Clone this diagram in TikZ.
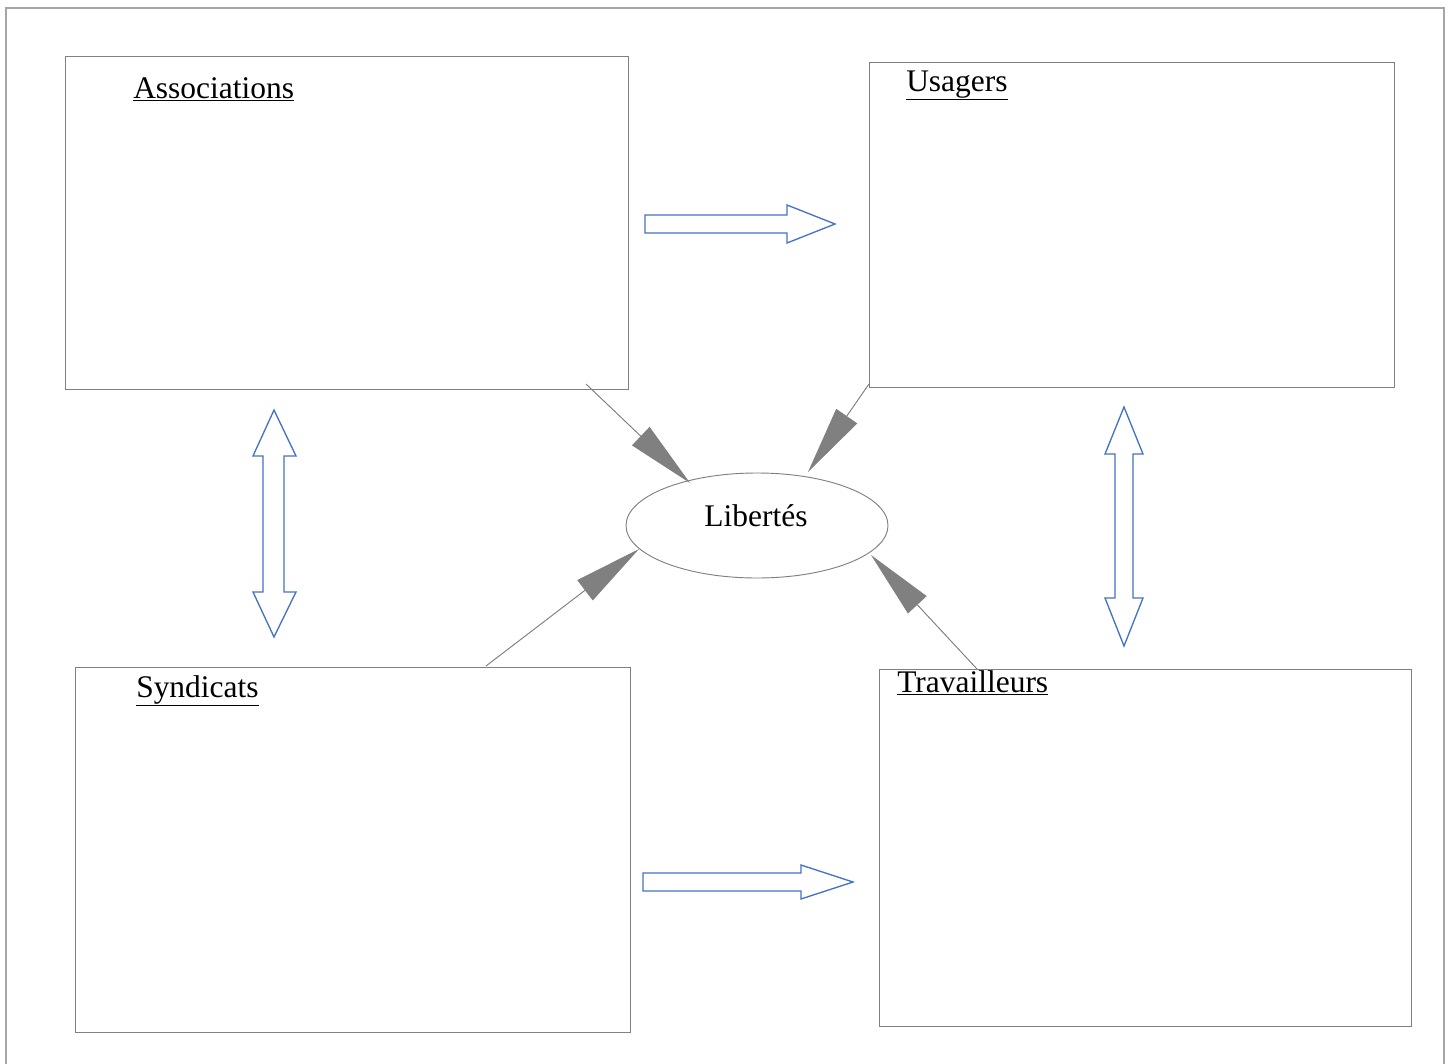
\documentclass[tikz,border=0pt]{standalone}
\usepackage{fontspec}
\setmainfont{Liberation Serif}
\usetikzlibrary{arrows.meta,shapes.geometric}
\definecolor{boxgray}{HTML}{808080}
\definecolor{framegray}{HTML}{A6A6A6}
\definecolor{arrowblue}{HTML}{4472C4}
\tikzset{
  box/.style={draw=boxgray, line width=0.8pt, rectangle, inner sep=0pt, anchor=north west},
  lbl/.style={anchor=base west, inner sep=0pt, font=\fontsize{23.6}{28}\selectfont},
  conn/.style={draw=boxgray, line width=0.7pt, -{Triangle[length=51pt,width=19pt]}, fill=boxgray},
  blockarrow/.style={draw=arrowblue, line width=1pt, line join=miter},
}
\begin{document}
\begin{tikzpicture}[x=0.75pt,y=-0.75pt]
\useasboundingbox (0,0) rectangle (1450,1064);
% outer frame
\draw[framegray, line width=1.3pt] (6,1080) -- (6,8) -- (1444,8) -- (1444,1080);
% boxes
\node[box, minimum width=563*0.75pt, minimum height=333*0.75pt] (assoc) at (65,56) {};
\node[box, minimum width=525*0.75pt, minimum height=325*0.75pt] (usag) at (869,62) {};
\node[box, minimum width=555*0.75pt, minimum height=365*0.75pt] (synd) at (75,667) {};
\node[box, minimum width=532*0.75pt, minimum height=357*0.75pt] (trav) at (879,669) {};
% labels
\node[lbl] (lassoc) at (133,98) {\underline{Associations}};
\node[lbl] (lusag) at (906,91) {\underline{Usagers}};
\node[lbl] (lsynd) at (136,697) {\underline{Syndicats}};
\node[lbl] (ltrav) at (897,692) {\underline{Travailleurs}};
% ellipse
\node[draw=boxgray, line width=0.7pt, ellipse, minimum width=262*0.75pt, minimum height=105*0.75pt, inner sep=0pt] (lib) at (757,525.5) {};
\node[anchor=base, inner sep=0pt, font=\fontsize{23.6}{28}\selectfont] (llib) at (756,526) {Libertés};
% connector endpoints
\coordinate (s1) at (586,384);
\coordinate (e1) at (690,483);
\coordinate (s2) at (869,384);
\coordinate (e2) at (808,472);
\coordinate (s3) at (486,666);
\coordinate (e3) at (639,549);
\coordinate (s4) at (977,669);
\coordinate (e4) at (871,555);
\draw[conn] (s1) -- (e1);
\draw[conn] (s2) -- (e2);
\draw[conn] (s3) -- (e3);
\draw[conn] (s4) -- (e4);
% block arrows
\draw[blockarrow] (645,215) -- (787,215) -- (787,205) -- (835,224) -- (787,243) -- (787,233) -- (645,233) -- cycle;
\draw[blockarrow] (643,873) -- (801,873) -- (801,865) -- (853,882) -- (801,899) -- (801,891) -- (643,891) -- cycle;
\draw[blockarrow] (274,410) -- (296,456) -- (284,456) -- (284,592) -- (296,592) -- (274,637) -- (253,592) -- (263,592) -- (263,456) -- (253,456) -- cycle;
\draw[blockarrow] (1124,407) -- (1143,454) -- (1133,454) -- (1133,598) -- (1143,598) -- (1124,646) -- (1105,598) -- (1115,598) -- (1115,454) -- (1105,454) -- cycle;
\end{tikzpicture}
\end{document}
